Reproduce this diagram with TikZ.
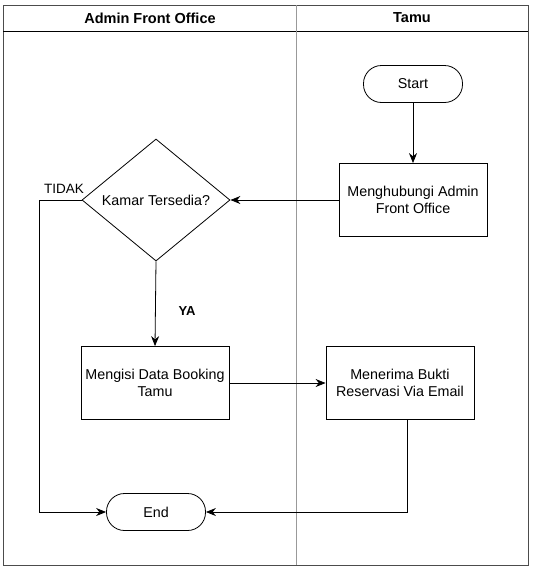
\documentclass[tikz,border=0pt]{standalone}
\usepackage{fontspec}
\setmainfont{Liberation Sans}
\usetikzlibrary{shapes.geometric,arrows.meta}

\begin{document}
\begin{tikzpicture}[x=1pt,y=-1pt,
% common options for the process boxes:
box/.style = {draw, align=center, minimum width=148pt, minimum height=73pt,
            inner sep=0, font=\fontsize{14.3}{17}\selectfont},
% common options for start and end:
term/.style = {draw, rounded corners=18pt, minimum width=99pt, minimum height=37pt,
            inner sep=0, font=\fontsize{14.3}{17}\selectfont},
% the decision:
dec/.style = {diamond, draw, minimum width=148pt, minimum height=122pt, aspect=1.2,
            inner sep=0, font=\fontsize{14.3}{17}\selectfont},
lane/.style = {font=\bfseries\fontsize{14.5}{17}\selectfont},
flow/.style = {-{Stealth[length=10pt,width=8pt]}, line width=0.8pt}]
\useasboundingbox (0,0) rectangle (535,568);
% swimlanes
\draw[line width=0.7pt, black!70] (3,5) rectangle (528,565);
\draw[line width=0.7pt] (3,31) -- (528,31);
\draw[line width=0.7pt, black!40] (296,5) -- (296,565);
\node[lane] (L0) at (150,18) {Admin Front Office};
\node[lane] (L1) at (412,18) {Tamu};
% nodes
\node[term, line width=0.8pt] (B0) at (413,84) {Start};
\node[box, line width=0.8pt] (B1) at (413,200) {Menghubungi Admin\\Front Office};
\node[dec, line width=0.8pt] (A1) at (156,200) {Kamar Tersedia?};
\node[box, line width=0.8pt] (A2) at (155,383) {Mengisi Data Booking\\Tamu};
\node[box, line width=0.8pt] (B2) at (400,383) {Menerima Bukti\\Reservasi Via Email};
\node[term, line width=0.8pt] (A3) at (156,512) {End};
\coordinate (C0) at (39,200);
\coordinate (C1) at (407,420);
% labels
\node[font=\fontsize{13.5}{16}\selectfont] (T0) at (64,189) {TIDAK};
\node[font=\bfseries\fontsize{13}{15}\selectfont] (T1) at (187,311) {YA};
% connectors
\draw[flow] (B0.south) -- (B1.north);
\draw[flow] (B1.west) -- (A1.east);
\draw[flow] (A1.south) -- (A2.north);
\draw[flow] (A2.east) -- (B2.west);
\draw[flow] (A1.west) -- (C0) |- (A3.west);
\draw[flow] (C1) |- (A3.east);
\end{tikzpicture}
\end{document}
